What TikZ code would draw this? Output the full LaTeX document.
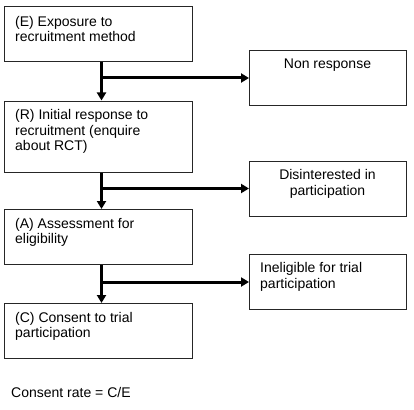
\documentclass[tikz,border=0pt]{standalone}
\usepackage{fontspec}
\setmainfont{Liberation Sans}
\usetikzlibrary{arrows.meta}
\begin{document}
\begin{tikzpicture}[x=1pt,y=-1pt,
  box/.style={draw=black!85, line width=1pt, anchor=north west, inner sep=0pt, minimum height=55pt},
  wbox/.style={box, minimum width=188pt},
  nbox/.style={box, minimum width=157pt},
  txt/.style={inner sep=0pt, align=left, anchor=north west, font=\fontsize{14}{15.5}\selectfont},
  ctxt/.style={txt, align=center, anchor=north},
  flow/.style={line width=3pt, -{Triangle[length=8pt,width=9pt]}},
  ]
\useasboundingbox (0,0) rectangle (414,409);
% left column boxes
\node[wbox] (E) at (4,6) {};
\node[wbox, minimum height=71pt] (R) at (4,100.5) {};
\node[wbox] (A) at (4,209) {};
\node[wbox] (C) at (4,303) {};
% right column boxes
\node[nbox] (NR) at (249,50) {};
\node[nbox] (D) at (249,160.5) {};
\node[nbox] (I) at (249,254) {};
% texts
\node[txt] (Et) at (15,15) {\strut (E) Exposure to\\recruitment method};
\node[txt] (Rt) at (15,108.6) {\strut (R) Initial response to\\recruitment (enquire\\about RCT)};
\node[txt] (At) at (15,217.2) {\strut (A) Assessment for\\eligibility};
\node[txt] (Ct) at (15,311) {\strut (C) Consent to trial\\participation};
\node[ctxt] (NRt) at (327.5,57.2) {\strut Non response};
\node[ctxt] (Dt) at (327.5,168.5) {\strut Disinterested in\\participation};
\node[txt] (It) at (260,261.65) {\strut Ineligible for trial\\participation};
\node[txt] (rate) at (11,386.65) {\strut Consent rate = C/E};
% connectors
\coordinate (sp) at (101.5,0);
\draw[flow] (sp |- E.south) -- (sp |- R.north);
\draw[flow] (sp |- R.south) -- (sp |- A.north);
\draw[flow] (sp |- A.south) -- (sp |- C.north);
\draw[flow] (sp |- NR.west) -- (NR.west);
\draw[flow] (sp |- D.west) -- (D.west);
\draw[flow] (sp |- I.west) -- (I.west);
\end{tikzpicture}
\end{document}
